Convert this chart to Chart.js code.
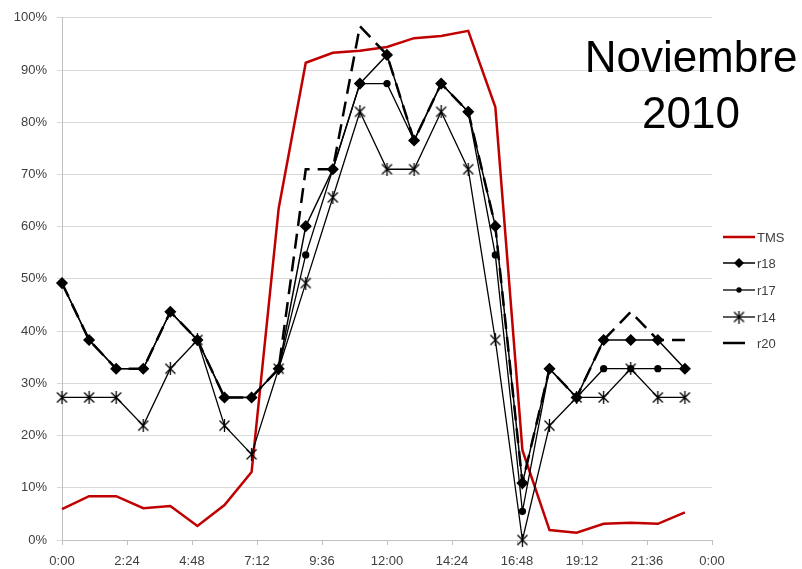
<!DOCTYPE html>
<html>
<head>
<meta charset="utf-8">
<script src="https://cdn.jsdelivr.net/npm/chart.js@4"></script>
<style>
  html, body { margin: 0; padding: 0; background: #fff; }
  #wrap { width: 802px; height: 569px; }
</style>
</head>
<body>
<div id="wrap"><canvas id="chartNov"></canvas></div>
<script>
    // hours of the day (x values)
    const hours = [0, 1, 2, 3, 4, 5, 6, 7, 8, 9, 10, 11, 12, 13, 14, 15, 16, 17, 18, 19, 20, 21, 22, 23]

    // series in %
    const tms = [5.9, 8.4, 8.4, 6.1, 6.5, 2.7, 6.7, 13.0, 63.5, 91.4, 93.3, 93.7, 94.4, 96.1, 96.5, 97.5, 82.9, 17.2, 1.9, 1.4, 3.1, 3.3, 3.1, 5.3]
    const r18 = [49.2, 38.3, 32.8, 32.8, 43.7, 38.3, 27.3, 27.3, 32.8, 60.1, 71.0, 87.4, 92.9, 76.5, 87.4, 82.0, 60.1, 10.9, 32.8, 27.3, 38.3, 38.3, 38.3, 32.8]
    const r17 = [49.2, 38.3, 32.8, 32.8, 43.7, 38.3, 27.3, 27.3, 32.8, 54.6, 71.0, 87.4, 87.4, 76.5, 87.4, 82.0, 54.6, 5.5, 32.8, 27.3, 32.8, 32.8, 32.8, 32.8]
    const r14 = [27.3, 27.3, 27.3, 21.9, 32.8, 38.3, 21.9, 16.4, 32.8, 49.2, 65.6, 82.0, 71.0, 71.0, 82.0, 71.0, 38.3, 0.0, 21.9, 27.3, 27.3, 32.8, 27.3, 27.3]
    const r20 = [49.2, 38.3, 32.8, 32.8, 43.7, 38.3, 27.3, 27.3, 32.8, 71.0, 71.0, 98.4, 92.9, 76.5, 87.4, 82.0, 60.1, 10.9, 32.8, 27.3, 38.3, 43.7, 38.3, 38.3]

    const titleLines = ['Noviembre', '2010']

    const toPoints = (vals) => vals.map((v, i) => ({ x: hours[i], y: v }))

    // asterisk marker for r14
    const starMark = document.createElement('canvas')
    starMark.width = 13
    starMark.height = 13
    let sctx = starMark.getContext('2d')
    sctx.strokeStyle = '#000'
    sctx.lineWidth = 1.3
    sctx.beginPath()
    sctx.moveTo(1.5, 1.5); sctx.lineTo(11.5, 11.5)
    sctx.moveTo(11.5, 1.5); sctx.lineTo(1.5, 11.5)
    sctx.moveTo(6.5, 0); sctx.lineTo(6.5, 13)
    sctx.stroke()

    const labelFont = { family: "'Liberation Sans', Arial, sans-serif", size: 13 }

    const fmtTime = (v) => {
        let mins = Math.round(v * 60) % 1440
        let h = Math.floor(mins / 60)
        let m = mins % 60
        return h + ':' + (m < 10 ? '0' + m : m)
    }

    // legend + big title drawn by hand so the plot area keeps its size
    const sideLegend = {
        id: 'sideLegend',
        afterDraw(chart) {
            const ctx = chart.ctx
            const rows = [237, 263, 290, 317, 343]
            ctx.save()
            chart.data.datasets.forEach((ds, i) => {
                let y = rows[i]
                ctx.strokeStyle = ds.borderColor
                ctx.lineWidth = ds.borderWidth
                ctx.setLineDash([])
                ctx.beginPath()
                if (ds.borderDash) {
                    ctx.moveTo(723, y); ctx.lineTo(745, y)
                } else {
                    ctx.moveTo(723, y); ctx.lineTo(755, y)
                }
                ctx.stroke()
                if (ds.pointRadius > 0) {
                    Chart.helpers.drawPoint(ctx, {
                        pointStyle: ds.pointStyle,
                        radius: ds.pointRadius - 1,
                        borderWidth: 1,
                        rotation: 0
                    }, 739, y)
                    if (typeof ds.pointStyle === 'string') {
                        ctx.fillStyle = '#000'
                        ctx.fill()
                    }
                }
                ctx.fillStyle = '#404040'
                ctx.font = "13px 'Liberation Sans', Arial, sans-serif"
                ctx.textBaseline = 'middle'
                ctx.textAlign = 'left'
                ctx.fillText(ds.label, 757, y + 1)
            })

            ctx.fillStyle = '#000'
            ctx.font = "44px 'Liberation Sans', Arial, sans-serif"
            ctx.textAlign = 'center'
            ctx.textBaseline = 'alphabetic'
            ctx.fillText(titleLines[0], 691, 72)
            ctx.fillText(titleLines[1], 691, 128)
            ctx.restore()
        }
    }

    const chartElem = document.getElementById('chartNov')

    new Chart(chartElem.getContext('2d'), {
        type: 'line',
        data: {
            datasets: [
                {
                    label: 'TMS',
                    data: toPoints(tms),
                    borderColor: '#c00000',
                    backgroundColor: '#c00000',
                    borderWidth: 2.5,
                    pointRadius: 0,
                    order: 5
                },
                {
                    label: 'r18',
                    data: toPoints(r18),
                    borderColor: '#000',
                    backgroundColor: '#000',
                    borderWidth: 1.5,
                    pointStyle: 'rectRot',
                    pointRadius: 5,
                    order: 4
                },
                {
                    label: 'r17',
                    data: toPoints(r17),
                    borderColor: '#000',
                    backgroundColor: '#000',
                    borderWidth: 1.3,
                    pointStyle: 'circle',
                    pointRadius: 3,
                    order: 3
                },
                {
                    label: 'r14',
                    data: toPoints(r14),
                    borderColor: '#000',
                    backgroundColor: '#000',
                    borderWidth: 1.3,
                    pointStyle: starMark,
                    pointRadius: 6,
                    order: 2
                },
                {
                    label: 'r20',
                    data: toPoints(r20),
                    borderColor: '#000',
                    backgroundColor: '#000',
                    borderWidth: 2.5,
                    borderDash: [15, 8],
                    pointRadius: 0,
                    order: 1
                }
            ]
        },
        options: {
            responsive: true,
            maintainAspectRatio: false,
            animation: false,
            clip: false,
            layout: { padding: { top: 17, right: 90, left: 0, bottom: 0 } },
            plugins: {
                legend: { display: false },
                tooltip: { enabled: false }
            },
            elements: { line: { tension: 0 } },
            scales: {
                x: {
                    type: 'linear',
                    min: 0,
                    max: 24,
                    afterFit: (s) => { s.height = 29 },
                    ticks: {
                        stepSize: 2.4,
                        color: '#404040',
                        font: labelFont,
                        padding: 9,
                        maxRotation: 0,
                        autoSkip: false,
                        callback: (v) => fmtTime(v)
                    },
                    grid: { drawOnChartArea: false, drawTicks: true, tickLength: 5, color: '#bfbfbf' },
                    border: { color: '#bfbfbf' }
                },
                y: {
                    min: 0,
                    max: 100,
                    afterFit: (s) => { s.width = 62 },
                    ticks: {
                        stepSize: 10,
                        color: '#404040',
                        font: labelFont,
                        padding: 10,
                        callback: (v) => v + '%'
                    },
                    grid: { color: '#d9d9d9', tickLength: 5 },
                    border: { color: '#bfbfbf' }
                }
            }
        },
        plugins: [sideLegend]
    })
</script>
</body>
</html>
